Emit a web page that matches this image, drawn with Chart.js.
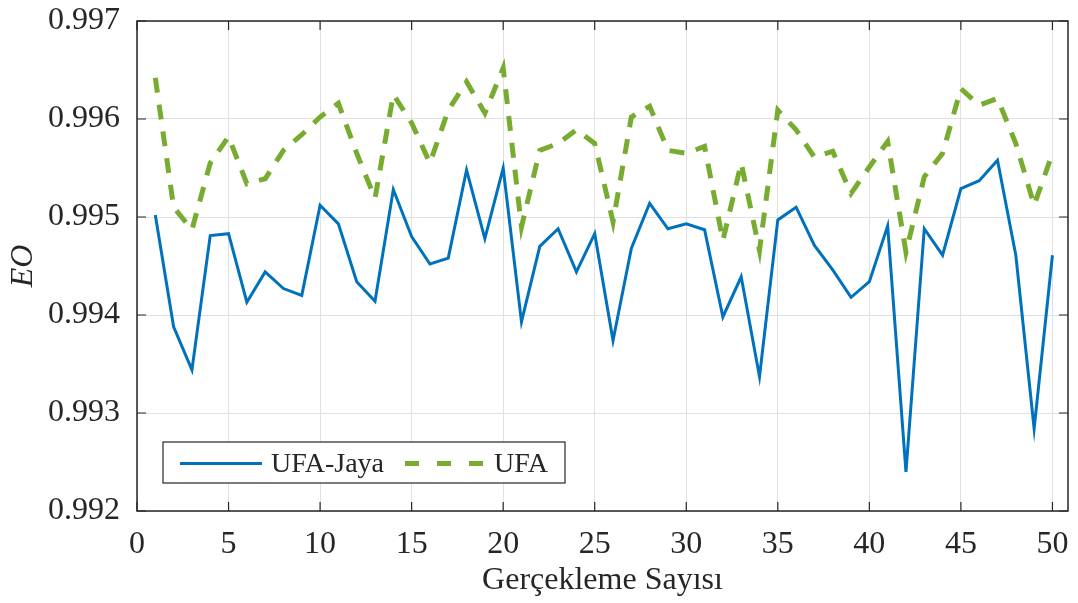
<!DOCTYPE html>
<html>
<head>
<meta charset="utf-8">
<script src="https://cdn.jsdelivr.net/npm/chart.js@4.4.1/dist/chart.umd.min.js"></script>
<style>
  html, body { margin: 0; padding: 0; background: #fff; }
  #wrap { width: 1078px; height: 603px; position: relative; }
</style>
</head>
<body>
<div id="wrap"><canvas id="c" width="1078" height="603"></canvas></div>
<script>
const runs = [1,2,3,4,5,6,7,8,9,10,11,12,13,14,15,16,17,18,19,20,21,22,23,24,25,26,27,28,29,30,31,32,33,34,35,36,37,38,39,40,41,42,43,44,45,46,47,48,49,50];
const ufaJaya = [0.99502,0.99388,0.99344,0.99481,0.99483,0.99413,0.99444,0.99427,0.99420,0.99512,
                 0.99493,0.99434,0.99414,0.99528,0.99480,0.99452,0.99458,0.99548,0.99478,0.99550,
                 0.99393,0.99470,0.99488,0.99444,0.99483,0.99374,0.99468,0.99514,0.99488,0.99493,
                 0.99487,0.99398,0.99439,0.99337,0.99497,0.99510,0.99471,0.99446,0.99418,0.99434,
                 0.99491,0.99240,0.99488,0.99461,0.99529,0.99537,0.99558,0.99461,0.99284,0.99461];
const ufa = [0.99642,0.99510,0.99487,0.99555,0.99582,0.99534,0.99539,0.99568,0.99584,0.99602,
             0.99616,0.99565,0.99519,0.99625,0.99596,0.99555,0.99609,0.99638,0.99606,0.99652,
             0.99490,0.99568,0.99575,0.99589,0.99575,0.99495,0.99602,0.99613,0.99568,0.99565,
             0.99572,0.99476,0.99555,0.99466,0.99609,0.99589,0.99561,0.99567,0.99524,0.99551,
             0.99577,0.99464,0.99541,0.99565,0.99631,0.99614,0.99621,0.99575,0.99512,0.99565];
const xTicks = [0,5,10,15,20,25,30,35,40,45,50];
const yTicks = [0.992,0.993,0.994,0.995,0.996,0.997];
const seriesNames = ['UFA-Jaya','UFA'];
const xTitle = 'Gerçekleme Sayısı';
const yTitle = 'EO';

const FONT = "'Liberation Serif', 'Times New Roman', serif";
const TXT = '#262626';
const BLUE = '#0072BD';
const GREEN = '#77AC30';

const boxPlugin = {
  id: 'matlabBox',
  afterDraw(chart) {
    const ctx = chart.ctx;
    const a = chart.chartArea;
    const xs = chart.scales.x, ys = chart.scales.y;
    ctx.save();
    ctx.strokeStyle = TXT;
    ctx.lineWidth = 1.5;
    ctx.strokeRect(a.left, a.top, a.right - a.left, a.bottom - a.top);
    ctx.lineWidth = 1.2;
    const tl = 9;
    ctx.beginPath();
    xs.ticks.forEach(t => {
      const p = xs.getPixelForValue(t.value);
      ctx.moveTo(p, a.bottom); ctx.lineTo(p, a.bottom - tl);
      ctx.moveTo(p, a.top); ctx.lineTo(p, a.top + tl);
    });
    ys.ticks.forEach(t => {
      const p = ys.getPixelForValue(t.value);
      ctx.moveTo(a.left, p); ctx.lineTo(a.left + tl, p);
      ctx.moveTo(a.right, p); ctx.lineTo(a.right - tl, p);
    });
    ctx.stroke();

    // legend
    const lx = 163, ly = 442, lw = 402, lh = 41;
    ctx.fillStyle = '#fff';
    ctx.fillRect(lx, ly, lw, lh);
    ctx.strokeStyle = TXT;
    ctx.lineWidth = 1.2;
    ctx.strokeRect(lx, ly, lw, lh);
    const cy = ly + lh / 2 + 1;
    const ds = chart.data.datasets;
    ctx.font = "28px " + FONT;
    ctx.textBaseline = 'middle';
    ctx.fillStyle = TXT;
    ctx.strokeStyle = ds[0].borderColor;
    ctx.lineWidth = ds[0].borderWidth;
    ctx.setLineDash([]);
    ctx.beginPath(); ctx.moveTo(180, cy); ctx.lineTo(262, cy); ctx.stroke();
    ctx.fillText(ds[0].label, 271, cy + 1);
    ctx.strokeStyle = ds[1].borderColor;
    ctx.lineWidth = ds[1].borderWidth;
    ctx.setLineDash([14, 18]);
    ctx.beginPath(); ctx.moveTo(405, cy); ctx.lineTo(491, cy); ctx.stroke();
    ctx.setLineDash([]);
    ctx.fillText(ds[1].label, 494, cy + 1);
    ctx.restore();
  }
};

function zeroPad(s) { s.paddingTop = 0; s.paddingBottom = 0; s.paddingLeft = 0; s.paddingRight = 0; }

new Chart(document.getElementById('c'), {
  type: 'line',
  data: {
    datasets: [
      {
        label: seriesNames[0],
        data: runs.map((r, i) => ({x: r, y: ufaJaya[i]})),
        borderColor: BLUE, borderWidth: 3, pointRadius: 0, tension: 0, fill: false
      },
      {
        label: seriesNames[1],
        data: runs.map((r, i) => ({x: r, y: ufa[i]})),
        borderColor: GREEN, borderWidth: 5, borderDash: [15, 12], pointRadius: 0, tension: 0, fill: false
      }
    ]
  },
  options: {
    responsive: false,
    animation: false,
    devicePixelRatio: 1,
    layout: { padding: { left: 0, right: 10, top: 21, bottom: 0 } },
    plugins: { legend: { display: false }, tooltip: { enabled: false } },
    scales: {
      x: {
        type: 'linear', min: 0, max: 50.85,
        afterBuildTicks: s => { s.ticks = xTicks.map(v => ({value: v})); },
        afterFit: s => { s.height = 92; zeroPad(s); },
        grid: { color: '#e0e0e0', lineWidth: 1, drawTicks: false },
        border: { display: false },
        ticks: { color: TXT, font: { family: FONT, size: 32 }, padding: 14, maxRotation: 0,
                 callback: v => String(v) },
        title: { display: true, text: xTitle, color: TXT, font: { family: FONT, size: 32, lineHeight: 1.2 },
                 padding: { top: 0, bottom: 3 } }
      },
      y: {
        type: 'linear', min: 0.992, max: 0.997,
        afterBuildTicks: s => { s.ticks = yTicks.map(v => ({value: v})); },
        afterFit: s => { s.width = 137; zeroPad(s); },
        grid: { color: '#e0e0e0', lineWidth: 1, drawTicks: false },
        border: { display: false },
        ticks: { color: TXT, font: { family: FONT, size: 32 }, padding: 17,
                 callback: v => Number(v).toFixed(3) },
        title: { display: true, text: yTitle, color: TXT, font: { family: FONT, size: 32, style: 'italic', lineHeight: 1.2 },
                 padding: { top: 4, bottom: 0 } }
      }
    }
  },
  plugins: [boxPlugin]
});
</script>
</body>
</html>
